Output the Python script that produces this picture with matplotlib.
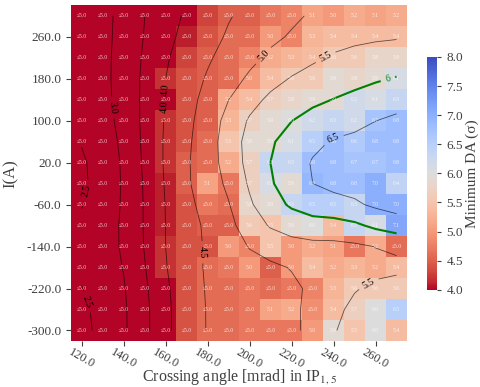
import numpy as np
import matplotlib
matplotlib.use("Agg")
import matplotlib.pyplot as plt

plt.rcParams['font.family'] = ['Liberation Serif', 'DejaVu Serif']
plt.rcParams['mathtext.fontset'] = 'stix'

# crossing angle [mrad] (columns) and octupole current I [A] (rows, top to bottom)
angles = [120, 130, 140, 150, 160, 170, 180, 190, 200, 210, 220, 230, 240, 250, 260, 270]
currents = [300, 260, 220, 180, 140, 100, 60, 20, -20, -60, -100, -140, -180, -220, -260, -300]

# minimum DA [sigma], one list per current row
da_300 = [2.7, 2.8, 3.0, 3.6, 3.8, 4.0, 4.3, 4.5, 4.5, 4.7, 4.8, 5.1, 5.0, 5.2, 5.1, 5.2]
da_260 = [2.7, 2.8, 3.0, 3.6, 3.9, 4.1, 4.4, 4.6, 4.6, 5.0, 4.8, 5.3, 5.4, 5.4, 5.4, 5.4]
da_220 = [2.7, 2.8, 3.1, 3.6, 4.0, 4.3, 4.5, 4.6, 4.8, 5.2, 5.3, 5.4, 5.6, 5.6, 5.8, 5.8]
da_180 = [2.7, 2.8, 3.1, 3.6, 4.2, 4.4, 4.5, 4.6, 5.0, 5.4, 5.6, 5.6, 5.9, 5.8, 5.9, 6.1]
da_140 = [2.6, 2.8, 3.1, 3.6, 4.0, 4.4, 4.5, 5.2, 5.4, 5.7, 5.8, 5.9, 5.9, 6.2, 6.1, 6.3]
da_100 = [2.6, 2.8, 3.1, 3.6, 4.2, 4.4, 4.5, 5.3, 5.7, 5.9, 6.0, 6.2, 6.3, 6.2, 6.7, 6.8]
da_60 = [2.4, 2.6, 3.0, 3.6, 4.2, 4.4, 4.6, 5.5, 5.9, 5.9, 6.1, 6.5, 6.8, 6.6, 6.8, 6.8]
da_20 = [2.3, 2.55, 3.0, 3.6, 4.2, 4.5, 4.6, 5.2, 5.7, 6.3, 6.3, 6.8, 6.8, 6.7, 6.7, 6.8]
da_m20 = [2.3, 2.55, 3.0, 3.5, 4.1, 4.5, 5.1, 4.7, 5.7, 6.1, 5.9, 6.9, 6.8, 6.8, 7.0, 6.4]
da_m60 = [2.3, 2.6, 3.0, 3.5, 4.1, 4.4, 4.7, 4.6, 5.8, 5.9, 6.3, 6.5, 6.5, 6.3, 7.0, 7.0]
da_m100 = [2.6, 2.7, 3.0, 3.5, 4.1, 4.4, 4.5, 4.5, 5.6, 5.5, 5.9, 6.0, 5.4, 6.3, 6.1, 7.1]
da_m140 = [2.6, 2.7, 3.0, 3.5, 4.2, 4.4, 4.4, 5.0, 4.8, 5.5, 5.0, 5.2, 5.1, 4.7, 5.2, 4.6]
da_m180 = [2.55, 2.7, 2.9, 3.4, 4.2, 4.4, 4.6, 4.7, 5.0, 4.5, 5.0, 5.4, 5.2, 5.3, 5.2, 5.4]
da_m220 = [2.4, 2.55, 2.85, 3.3, 4.0, 4.4, 4.6, 4.6, 4.7, 4.6, 4.7, 4.8, 5.3, 5.6, 5.6, 5.6]
da_m260 = [2.3, 2.55, 2.85, 3.3, 3.9, 4.4, 4.6, 4.6, 4.7, 5.1, 5.2, 4.9, 5.4, 5.7, 6.0, 6.5]
da_m300 = [2.3, 2.55, 2.85, 3.3, 4.0, 4.4, 4.6, 4.6, 4.7, 4.7, 4.7, 5.0, 5.9, 5.5, 6.0, 5.4]

da = np.array([da_300, da_260, da_220, da_180, da_140, da_100, da_60, da_20,
               da_m20, da_m60, da_m100, da_m140, da_m180, da_m220, da_m260, da_m300])

xticks = [120, 140, 160, 180, 200, 220, 240, 260]
yticks = [260, 180, 100, 20, -60, -140, -220, -300]
cbar_ticks = [4.0, 4.5, 5.0, 5.5, 6.0, 6.5, 7.0, 7.5, 8.0]
black_levels = [2.5, 3.0, 3.5, 4.0, 4.5, 5.0, 5.5, 6.5]
green_levels = [6.0]


def smooth(z, sigma):
    r = int(np.ceil(3 * sigma))
    k = np.exp(-0.5 * (np.arange(-r, r + 1) / sigma) ** 2)
    k /= k.sum()
    zp = np.pad(z, r, mode='edge')
    zr = np.apply_along_axis(lambda m: np.convolve(m, k, mode='valid'), 1, zp)
    zc = np.apply_along_axis(lambda m: np.convolve(m, k, mode='valid'), 0, zr)
    return zc


da_smooth = smooth(da, 1.0)

fig = plt.figure(figsize=(4.8, 3.87), dpi=100)
ax = fig.add_axes([0.148, 0.119, 0.700, 0.867])

dx = (angles[1] - angles[0]) / 2
dy = abs(currents[0] - currents[1]) / 2
im = ax.imshow(da, cmap='coolwarm_r', vmin=4, vmax=8, aspect='auto',
               interpolation='nearest',
               extent=[angles[0] - dx, angles[-1] + dx, currents[-1] - dy, currents[0] + dy])

for i, c in enumerate(currents):
    for j, a in enumerate(angles):
        v = da[i, j]
        txt = "≤5.0" if v < 5.0 else f"{v:.1f}"
        ax.text(a, c, txt, ha='center', va='center', fontsize=4,
                color='white', alpha=0.8)

cs = ax.contour(angles, currents, da_smooth, levels=black_levels,
                colors=[(0, 0, 0, 0.6)], linewidths=0.6)
# approximate label spots (data coordinates) as seen in the reference
black_label_spots = [(126, -37), (126, -241), (139, 127), (155, 127), (161, 159),
                     (174, -151), (205, 230), (235, 230), (255, -199), (238, 79)]
ax.clabel(cs, fmt='%.1f', fontsize=7, colors='k', manual=black_label_spots)
cs6 = ax.contour(angles, currents, da_smooth, levels=green_levels, colors='green',
                 linewidths=1.5)
ax.clabel(cs6, fmt='%d', fontsize=7, colors='green', manual=[(265, 191)])

for s in ax.spines.values():
    s.set_visible(False)
ax.set_xticks(xticks)
ax.set_xticklabels([f"{t:.1f}" for t in xticks], rotation=-30, ha='center')
ax.set_yticks(yticks)
ax.set_yticklabels([f"{t:.1f}" for t in yticks])
ax.tick_params(axis='both', labelsize=9.5, labelcolor='0.25', color='0.25',
               length=3.5, width=0.8)
ax.tick_params(axis='x', pad=0.5, labelsize=9)
ax.set_xlabel("Crossing angle [mrad] in IP$_{1,5}$", fontsize=11.5, color='0.25')
ax.xaxis.set_label_coords(0.5, -0.077)
ax.set_ylabel("I(A)", fontsize=12, color='0.25', labelpad=6)

cax = fig.add_axes([0.890, 0.251, 0.021, 0.602])
cb = fig.colorbar(im, cax=cax, ticks=cbar_ticks)
cb.outline.set_visible(False)
cb.ax.set_yticklabels([f"{t:.1f}" for t in cbar_ticks])
cb.ax.tick_params(labelsize=9.5, labelcolor='0.25', color='0.25', length=3, width=0.8)
cb.set_label("Minimum DA (σ)", fontsize=11, color='0.25', labelpad=2)

fig.savefig("out.png", dpi=100)
